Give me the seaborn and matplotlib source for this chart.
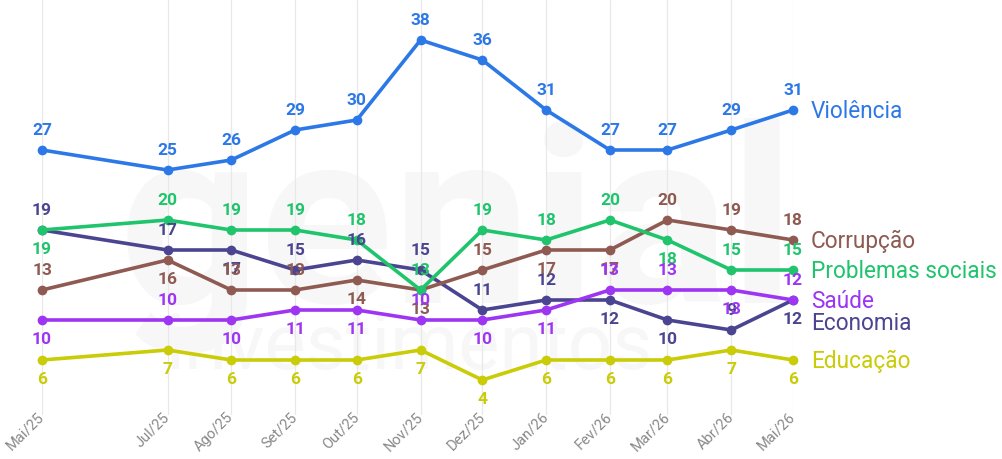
import numpy as np
import pandas as pd
from matplotlib import pyplot as plt
import seaborn as sns

# dados
meses = ['2025-05-01', '2025-07-01', '2025-08-01', '2025-09-01', '2025-10-01', '2025-11-01',
         '2025-12-01', '2026-01-01', '2026-02-01', '2026-03-01', '2026-04-01', '2026-05-01']
rotulos = ['Mai/25', 'Jul/25', 'Ago/25', 'Set/25', 'Out/25', 'Nov/25',
           'Dez/25', 'Jan/26', 'Fev/26', 'Mar/26', 'Abr/26', 'Mai/26']

violencia = [27, 25, 26, 29, 30, 38, 36, 31, 27, 27, 29, 31]
economia = [19, 17, 17, 15, 16, 15, 11, 12, 12, 10, 9, 12]
corrupcao = [13, 16, 13, 13, 14, 13, 15, 17, 17, 20, 19, 18]
problemas = [19, 20, 19, 19, 18, 13, 19, 18, 20, 18, 15, 15]
saude = [10, 10, 10, 11, 11, 10, 10, 11, 13, 13, 13, 12]
educacao = [6, 7, 6, 6, 6, 7, 4, 6, 6, 6, 7, 6]

series = ['Violência', 'Economia', 'Corrupção', 'Problemas sociais', 'Saúde', 'Educação']
valores = [violencia, economia, corrupcao, problemas, saude, educacao]

# estilo
cores = {'Violência': '#2c78e6', 'Economia': '#4b4591', 'Corrupção': '#8e5a51',
         'Problemas sociais': '#1fc46c', 'Saúde': '#9d35f2', 'Educação': '#c9cc06'}
# a = rótulo acima, b = abaixo
posicao = {'Violência': 'aaaaaaaaaaaa',
           'Economia': 'aabaaaaabbab',
           'Corrupção': 'abaabbabbaaa',
           'Problemas sociais': 'baaaaaaaabaa',
           'Saúde': 'babbbabbaaba',
           'Educação': 'bbbbbbbbbbbb'}
desloc_nome = {'Economia': -17}


def main():
    datas = pd.to_datetime(meses)
    df = pd.concat([pd.DataFrame({'data': datas, 'serie': s, 'valor': v})
                    for s, v in zip(series, valores)], ignore_index=True)

    sns.set_theme(style='white')
    plt.rcParams['font.family'] = ['Roboto', 'DejaVu Sans']

    fig = plt.figure(figsize=(10.03, 4.59), dpi=100)
    ax = fig.add_axes([42 / 1003, 44 / 459, (793 - 42) / 1003, 415 / 459])

    # marca d'água (atrás das linhas)
    ax.text(0.118, 0.34, 'genial', transform=fig.transFigure, fontsize=178,
            fontweight='bold', color='#f7f7f7', ha='left', va='baseline', zorder=0)
    ax.text(0.165, 0.195, 'investimentos', transform=fig.transFigure, fontsize=56,
            color='#f7f7f7', ha='left', va='baseline', zorder=0)

    sns.lineplot(data=df, x='data', y='valor', hue='serie', palette=cores,
                 marker='o', markersize=7, markeredgewidth=0, linewidth=2.6,
                 legend=False, ax=ax, zorder=3)
    for ln in ax.lines:
        ln.set_clip_on(False)
        ln.set_solid_capstyle('round')

    for s, v in zip(series, valores):
        for d, y, p in zip(datas, v, posicao[s]):
            ax.annotate(str(y), (d, y), xytext=(0, 14 if p == 'a' else -14),
                        textcoords='offset points', ha='center', va='center',
                        fontsize=12.5, fontweight='bold', color=cores[s],
                        annotation_clip=False, zorder=4)
        ax.annotate(s, (datas[-1], v[-1]), xytext=(13, desloc_nome.get(s, -1)),
                    textcoords='offset points', ha='left', va='center',
                    fontsize=16.3, color=cores[s], annotation_clip=False, zorder=4)

    ax.set_xlim(datas[0], datas[-1])
    ax.set_ylim(0.5, 42)
    ax.set_xticks(datas)
    ax.set_xticklabels(rotulos, rotation=45, ha='right', va='center',
                       rotation_mode='anchor', fontsize=10.5, color='#888888')
    ax.set_yticks([])
    ax.tick_params(axis='x', length=0, pad=0)
    ax.grid(axis='x', color='#e8e8e8', linewidth=0.9, zorder=1)
    ax.set_axisbelow(True)
    ax.set_xlabel('')
    ax.set_ylabel('')
    sns.despine(ax=ax, left=True, bottom=True)
    ax.patch.set_alpha(0)

    fig.savefig('out.png', dpi=100)


if __name__ == '__main__':
    main()
